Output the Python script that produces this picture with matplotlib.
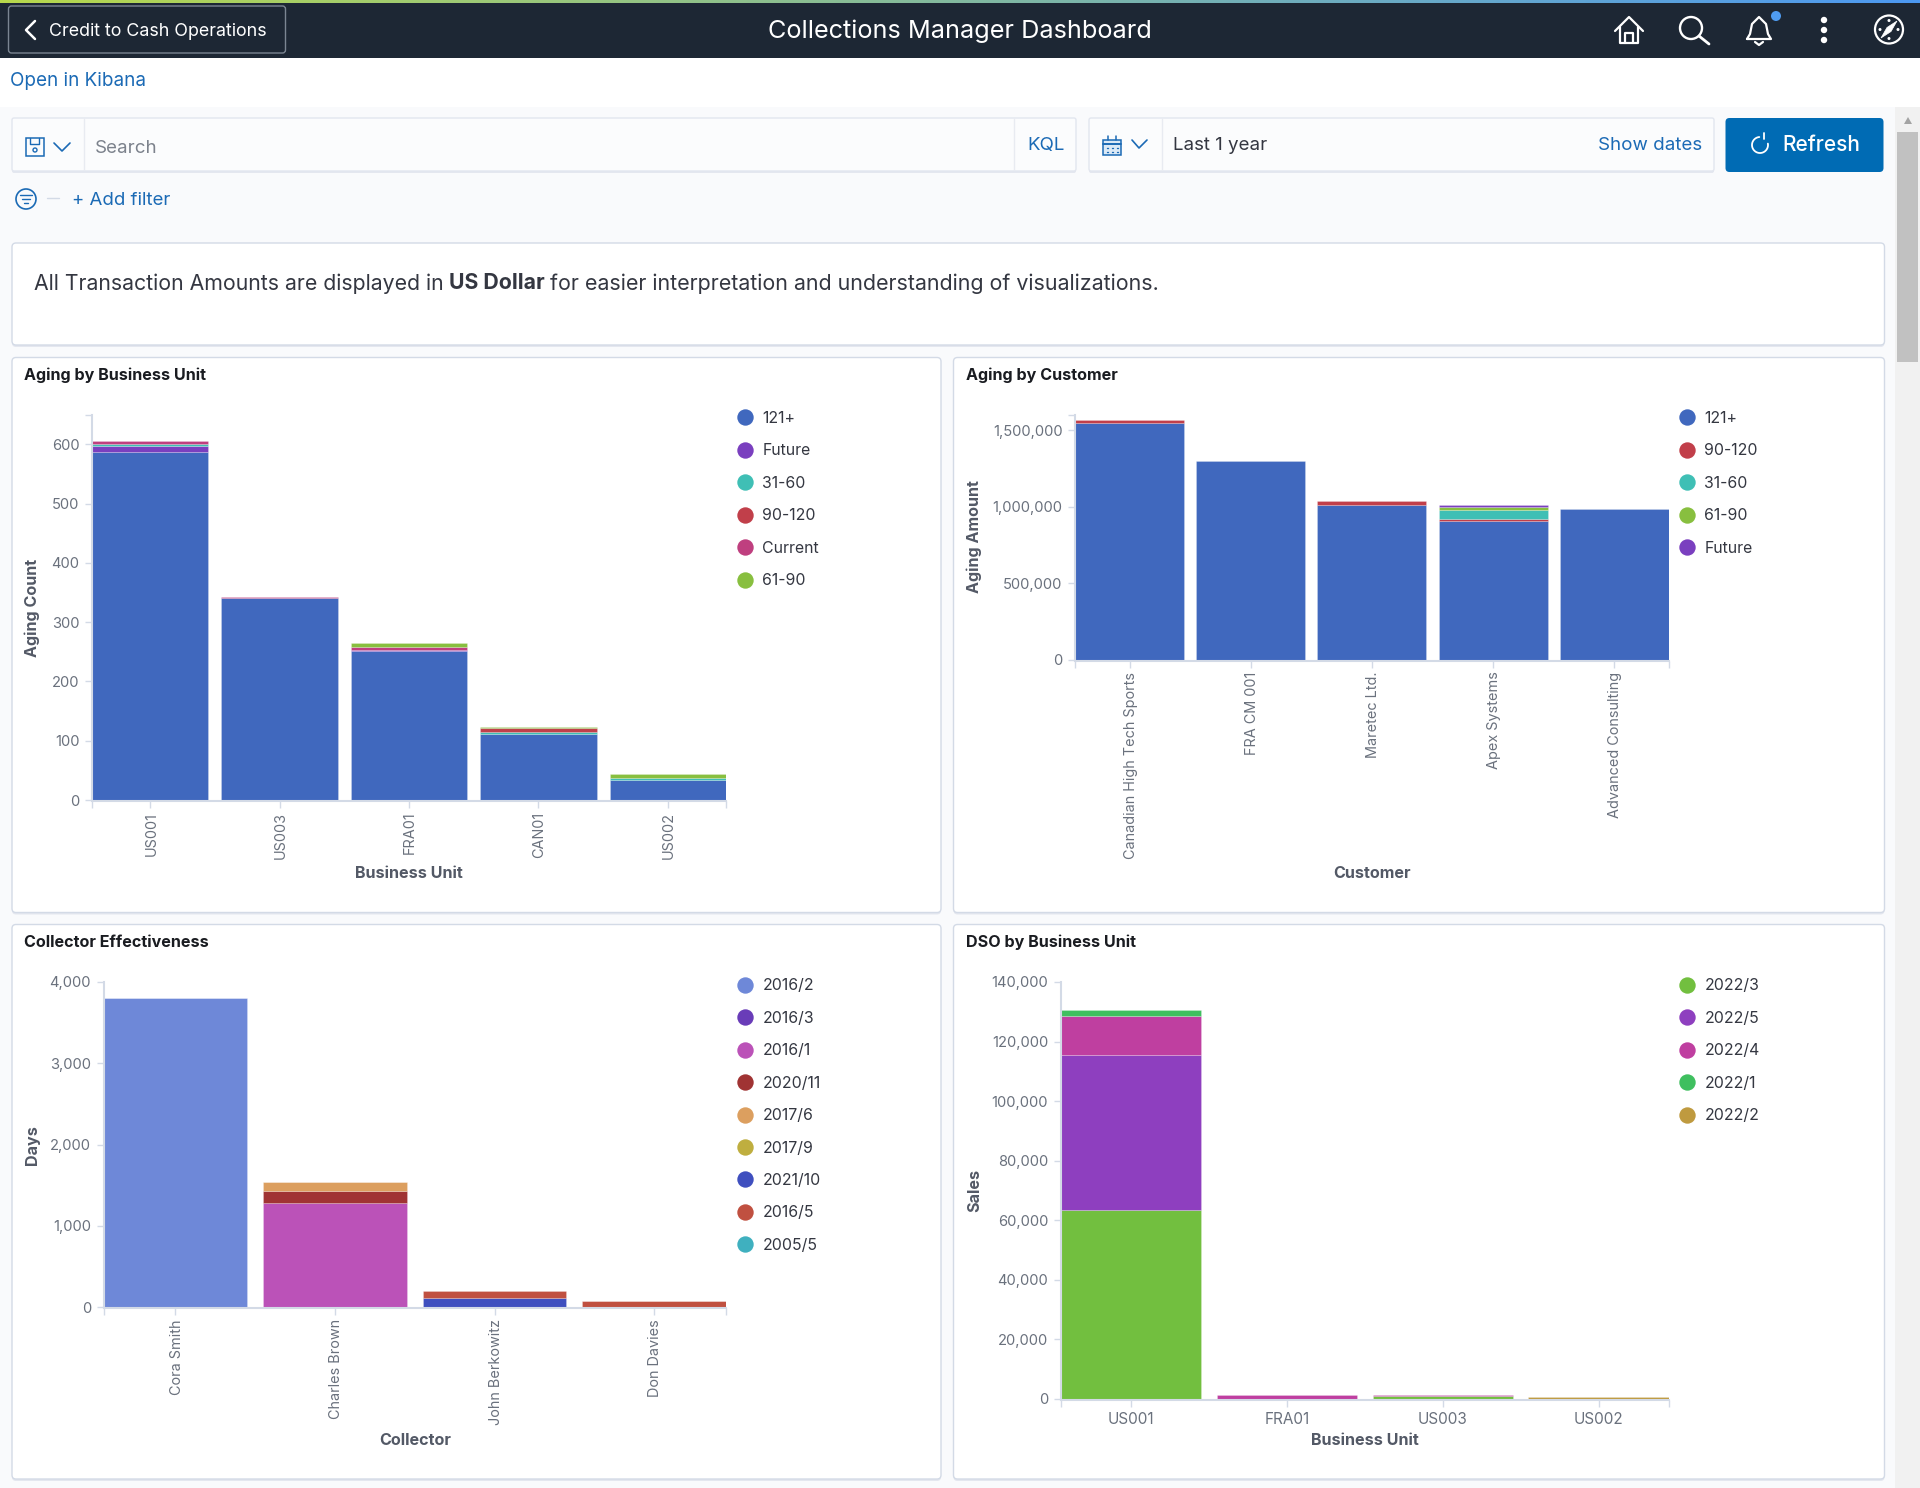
import matplotlib
matplotlib.use("Agg")
import matplotlib.pyplot as plt
import numpy as np
from matplotlib.lines import Line2D
from matplotlib.patches import Circle, FancyBboxPatch, Polygon, Rectangle
from matplotlib.transforms import ScaledTranslation

plt.rcParams["font.family"] = ["Inter", "DejaVu Sans"]

W, H = 1920, 1488
AXIS = "#d3dae6"
TICK_TEXT = "#6a717d"
TITLE_TEXT = "#535966"
LINK = "#1b6ab5"

# Aging by Business Unit
bu_units = ["US001", "US003", "FRA01", "CAN01", "US002"]
bu_names = ["121+", "Future", "31-60", "90-120", "Current", "61-90"]
bu_colors = ["#4068be", "#7a3fbf", "#3fbfb5", "#c13f4a", "#bf3f7f", "#88bf3f"]
bu_121 = [587, 341, 251, 112, 33]
bu_future = [10, 0, 1.5, 0, 0]
bu_31_60 = [4, 0, 0, 3.5, 3.5]
bu_90_120 = [0, 0, 0, 6, 0]
bu_current = [4, 2, 5, 0, 0]
bu_61_90 = [0, 0, 8, 2, 8]

# Aging by Customer
cust_names = ["Canadian High Tech Sports", "FRA CM 001", "Maretec Ltd.", "Apex Systems", "Advanced Consulting"]
cust_series = ["121+", "90-120", "31-60", "61-90", "Future"]
cust_colors = ["#4068be", "#c13f4a", "#3fbfb5", "#88bf3f", "#7a3fbf"]
cust_121 = [1549000, 1299000, 1009000, 904000, 987000]
cust_90_120 = [17000, 0, 26000, 13000, 0]
cust_31_60 = [0, 0, 0, 59000, 0]
cust_61_90 = [0, 0, 0, 24000, 0]
cust_future = [0, 0, 0, 13000, 0]

# Collector Effectiveness
collectors = ["Cora Smith", "Charles Brown", "John Berkowitz", "Don Davies"]
coll_series = ["2016/2", "2016/3", "2016/1", "2020/11", "2017/6", "2017/9", "2021/10", "2016/5", "2005/5"]
coll_colors = ["#6e88d8", "#693cb8", "#bb52b8", "#a03333", "#dc9f5f", "#bfae3f", "#3f4fbf", "#c05040", "#3fb0bf"]
coll_2016_2 = [3799, 0, 0, 0]
coll_2016_3 = [1, 0, 0, 0]
coll_2016_1 = [0, 1286, 0, 0]
coll_2020_11 = [0, 147, 0, 0]
coll_2017_6 = [0, 102, 0, 0]
coll_2017_9 = [0, 3, 0, 0]
coll_2021_10 = [0, 0, 111, 0]
coll_2016_5 = [0, 0, 85, 74]
coll_2005_5 = [0, 0, 0, 1]

# DSO by Business Unit
dso_units = ["US001", "FRA01", "US003", "US002"]
dso_series = ["2022/3", "2022/5", "2022/4", "2022/1", "2022/2"]
dso_colors = ["#72bf3f", "#8e3fbf", "#bf3fa0", "#3fbf5f", "#bf9a3f"]
dso_2022_3 = [63600, 0, 1000, 0]
dso_2022_5 = [52000, 0, 0, 0]
dso_2022_4 = [13000, 1300, 250, 0]
dso_2022_1 = [2000, 0, 0, 0]
dso_2022_2 = [0, 0, 0, 670]


fig = plt.figure(figsize=(W / 100, H / 100), dpi=100, facecolor="#f9fafc")
page = fig.add_axes([0, 0, 1, 1], zorder=0)
page.set_xlim(0, W)
page.set_ylim(H, 0)
page.axis("off")


def rect(x0, y0, x1, y1, color, **kw):
    page.add_patch(Rectangle((x0, y0), x1 - x0, y1 - y0, facecolor=color, edgecolor="none", **kw))


def card(x0, y0, x1, y1, face="white", edge=AXIS, radius=4):
    page.add_patch(FancyBboxPatch((x0, y0 + 2), x1 - x0, y1 - y0, boxstyle=f"round,pad=0,rounding_size={radius}",
                                  facecolor="#e4e7ef", edgecolor="none"))
    page.add_patch(FancyBboxPatch((x0, y0), x1 - x0, y1 - y0, boxstyle=f"round,pad=0,rounding_size={radius}",
                                  facecolor=face, edgecolor=edge, linewidth=1))


def line(xs, ys, color="white", lw=1.6):
    page.plot(xs, ys, color=color, lw=lw, solid_capstyle="round", solid_joinstyle="round")


def text(x, y, s, size, color, **kw):
    kw.setdefault("va", "center")
    page.text(x, y + 1.8, s, fontsize=size, color=color, **kw)


def header():
    rect(0, 0, W, 107, "white")
    rect(0, 0, W, 58, "#1d2734")
    grad = np.linspace(0, 1, 256)
    left, right = np.array([0.72, 0.85, 0.30]), np.array([0.30, 0.60, 0.95])
    strip = (left[None, :] * (1 - grad)[:, None] + right[None, :] * grad[:, None])[None, :, :]
    page.imshow(strip, extent=(0, W, 3, 0), aspect="auto", zorder=2)
    page.set_xlim(0, W)
    page.set_ylim(H, 0)

    page.add_patch(FancyBboxPatch((8.5, 6), 277, 47, boxstyle="round,pad=0,rounding_size=3",
                                  facecolor="none", edgecolor="#7b8592", linewidth=1))
    line([35, 26, 35], [21, 30, 39], lw=1.8)
    text(49, 29.5, "Credit to Cash Operations", 12.85, "white")
    text(960, 29.5, "Collections Manager Dashboard", 18.2, "white", ha="center")

    # toolbar icons
    line([1615, 1629, 1643], [31, 17, 31])
    line([1620, 1620, 1638, 1638], [27, 43, 43, 27])
    line([1625, 1625, 1633, 1633], [43, 33, 33, 43])
    page.add_patch(Circle((1691, 28), 11, facecolor="none", edgecolor="white", lw=1.7))
    line([1699, 1709], [36, 44], lw=2)
    line([1747, 1750, 1752, 1759, 1766, 1768, 1771, 1747], [39, 34, 24, 17, 24, 34, 39, 39], lw=1.6)
    line([1755, 1759, 1763], [42, 45, 42], lw=1.6)
    page.add_patch(Circle((1776, 16), 5, facecolor="#4f9bf0", edgecolor="none", zorder=3))
    for yy in (20, 30, 40):
        page.add_patch(Circle((1824, yy), 3.2, facecolor="white", edgecolor="none"))
    page.add_patch(Circle((1889, 29.5), 14, facecolor="none", edgecolor="white", lw=1.6))
    page.add_patch(Polygon([[1881, 38], [1887, 27.5], [1897, 21], [1891, 31.5]], closed=True,
                           facecolor="white", edgecolor="white", lw=0.5))
    for dx, dy in ((0, -9), (0, 9), (-9, 0), (9, 0)):
        page.add_patch(Circle((1889 + dx, 29.5 + dy), 1.5, facecolor="white", edgecolor="none"))

    text(10.5, 79.5, "Open in Kibana", 13.6, LINK)


def query_bar():
    card(12, 118, 1076, 171, face="#fbfcfd", edge="#e2e6ef", radius=2)
    line([84, 84], [119, 170], color="#e8ebf1", lw=1)
    line([1014, 1014], [119, 170], color="#e8ebf1", lw=1)
    text(95, 146.5, "Search", 13.5, "#7c828c")
    text(1046, 144, "KQL", 13.5, LINK, ha="center")
    # save icon
    page.add_patch(Rectangle((26, 138), 18, 18, facecolor="none", edgecolor=LINK, lw=1.1))
    line([30, 30, 39, 39], [138, 144, 144, 138], color=LINK, lw=1)
    page.add_patch(Circle((35, 150), 2, facecolor="none", edgecolor=LINK, lw=1))
    line([54, 62, 70], [143, 151, 143], color=LINK, lw=1.2)

    card(1089, 118, 1714, 171, face="#fbfcfd", edge="#e2e6ef", radius=2)
    line([1161.5, 1161.5], [119, 170], color="#e8ebf1", lw=1)
    page.add_patch(Rectangle((1103, 140), 18, 15, facecolor="#dbe9f6", edgecolor=LINK, lw=1.1))
    line([1103, 1121], [144, 144], color=LINK, lw=1.4)
    line([1108, 1108], [136, 140], color=LINK, lw=1.1)
    line([1116, 1116], [136, 140], color=LINK, lw=1.1)
    for gx in (1107, 1112, 1117):
        for gy in (148, 152):
            line([gx, gx + 1], [gy, gy], color=LINK, lw=1)
    line([1132, 1139, 1147], [140, 148, 140], color=LINK, lw=1.2)
    text(1173, 143.5, "Last 1 year", 13.5, "#343741")
    text(1702, 143.5, "Show dates", 13.5, LINK, ha="right")

    page.add_patch(FancyBboxPatch((1725.5, 118), 158, 54, boxstyle="round,pad=0,rounding_size=4",
                                  facecolor="#006bb4", edgecolor="none"))
    ang = np.radians(np.linspace(-10, 265, 60))
    line(1760 + 8 * np.cos(ang), 145 + 8 * np.sin(ang), lw=1.3)
    line([1764, 1764], [133, 139], lw=1.3)
    text(1782, 143.5, "Refresh", 15, "white", fontweight="medium")

    page.add_patch(Circle((26, 199), 10, facecolor="none", edgecolor=LINK, lw=1.2))
    for half, yy in ((6, 195), (4, 199), (2, 203)):
        line([26 - half, 26 + half], [yy, yy], color=LINK, lw=1)
    line([47, 59], [198, 198], color="#d3dae6", lw=1)
    text(72, 198.5, "+ Add filter", 13.4, LINK)


def scrollbar():
    rect(1895, 107, W, H, "#f1f1f1")
    rect(1897, 132, 1918, 362, "#c1c1c1")
    page.add_patch(Polygon([[1904, 124], [1912, 124], [1908, 117]], facecolor="#a3a3a3", edgecolor="none"))


def note():
    card(12, 243, 1884.5, 345)
    text(34, 281.5, "All Transaction Amounts are displayed in", 15.3, "#343741")
    text(449, 281.5, "US Dollar", 15.3, "#343741", fontweight="bold")
    text(550, 281.5, "for easier interpretation and understanding of visualizations.", 15.42, "#343741")


def panel(rect_px, box, title, title_x, title_y, categories, series, names, colors, ymax, yticks,
          ylabel, xlabel, xlabel_pos, ylabel_pos, legend_xy, rotate=True, top_tick=None):
    card(*box)
    text(title_x, title_y, title, 11.6, "#1a1c21", fontweight="bold")

    x0, y0, x1, y1 = rect_px
    ax = fig.add_axes([x0 / W, 1 - y1 / H, (x1 - x0) / W, (y1 - y0) / H], zorder=1)
    ax.patch.set_alpha(0)

    pos = np.arange(len(categories))
    bottom = np.zeros(len(categories))
    for values, color in zip(series, colors):
        values = np.array(values, dtype=float)
        keep = values > 0
        ax.bar(pos[keep], values[keep], width=0.9, bottom=bottom[keep], color=color,
               edgecolor=(1, 1, 1, 0.3), linewidth=0.5)
        bottom += values

    ax.set_xlim(-0.45, len(categories) - 0.55)
    ax.set_ylim(0, ymax)
    for side in ("top", "right"):
        ax.spines[side].set_visible(False)
    for side in ("left", "bottom"):
        ax.spines[side].set_color(AXIS)
        ax.spines[side].set_linewidth(1.5)
    ax.spines["bottom"].set_position(("outward", 0.7))

    ax.set_xticks(pos, categories, rotation=90 if rotate else 0)
    ax.set_xticks([-0.45, len(categories) - 0.55], minor=True)
    ax.set_yticks(yticks, [f"{v:,}" for v in yticks])
    if top_tick:
        ax.set_yticks([top_tick], minor=True)
    ax.tick_params(axis="both", which="both", color=AXIS, width=1, length=5, labelcolor=TICK_TEXT, pad=4)
    ax.tick_params(axis="y", labelsize=10.6)
    ax.tick_params(axis="x", labelsize=10.4 if rotate else 11, pad=2.8 if rotate else 4)
    if rotate:
        shift = ScaledTranslation(1.2 / 100, 0, fig.dpi_scale_trans)
        for label in ax.get_xticklabels():
            label.set_transform(label.get_transform() + shift)

    ax.set_xlabel(xlabel, fontsize=11.6, fontweight="bold", color=TITLE_TEXT, va="center")
    ax.set_ylabel(ylabel, fontsize=11.6, fontweight="bold", color=TITLE_TEXT, va="center")
    ax.xaxis.set_label_coords(*xlabel_pos, transform=page.transData)
    ax.yaxis.set_label_coords(*ylabel_pos, transform=page.transData)

    handles = [Line2D([], [], linestyle="none", marker="o", markersize=11.8, color=c, markeredgewidth=0, label=n)
               for n, c in zip(names, colors)]
    lx, ly = legend_xy
    ax.legend(handles=handles, loc="upper left", bbox_to_anchor=(lx / W, 1 - ly / H),
              bbox_transform=fig.transFigure, frameon=False, fontsize=11.4, labelcolor="#343741",
              labelspacing=1.1, handlelength=1, handletextpad=0.63, borderpad=0, borderaxespad=0)
    return ax


header()
query_bar()
scrollbar()
note()

panel((92, 414.7, 726, 800), (12, 357.5, 941, 912.5), "Aging by Business Unit", 23.5, 373.5,
      bu_units, [bu_121, bu_future, bu_31_60, bu_90_120, bu_current, bu_61_90], bu_names, bu_colors,
      650, [0, 100, 200, 300, 400, 500, 600], "Aging Count", "Business Unit", (409, 873.5), (32.5, 607.5),
      (736.6, 411), top_tick=650)

panel((1075, 414.7, 1668.8, 659.8), (953.5, 357.5, 1884.5, 912.5), "Aging by Customer", 965.5, 373.5,
      cust_names, [cust_121, cust_90_120, cust_31_60, cust_61_90, cust_future], cust_series, cust_colors,
      1600000, [0, 500000, 1000000, 1500000], "Aging Amount", "Customer", (1372, 873.5), (974.5, 537),
      (1678.6, 411), top_tick=1600000)

panel((103.6, 982, 726, 1307.2), (12, 924.5, 941, 1479), "Collector Effectiveness", 23.5, 940.5,
      collectors, [coll_2016_2, coll_2016_3, coll_2016_1, coll_2020_11, coll_2017_6, coll_2017_9, coll_2021_10,
                   coll_2016_5, coll_2005_5], coll_series, coll_colors,
      4000, [0, 1000, 2000, 3000, 4000], "Days", "Collector", (415, 1440.5), (32.5, 1145),
      (736.6, 978.5))

panel((1060.7, 982, 1668.8, 1399), (953.5, 924.5, 1884.5, 1479), "DSO by Business Unit", 965.5, 940.5,
      dso_units, [dso_2022_3, dso_2022_5, dso_2022_4, dso_2022_1, dso_2022_2], dso_series, dso_colors,
      140000, [0, 20000, 40000, 60000, 80000, 100000, 120000, 140000], "Sales", "Business Unit", (1365, 1440.5),
      (974.5, 1190.5), (1678.6, 978.5), rotate=False)

fig.savefig("out.png", dpi=100, facecolor=fig.get_facecolor())
plt.close(fig)
